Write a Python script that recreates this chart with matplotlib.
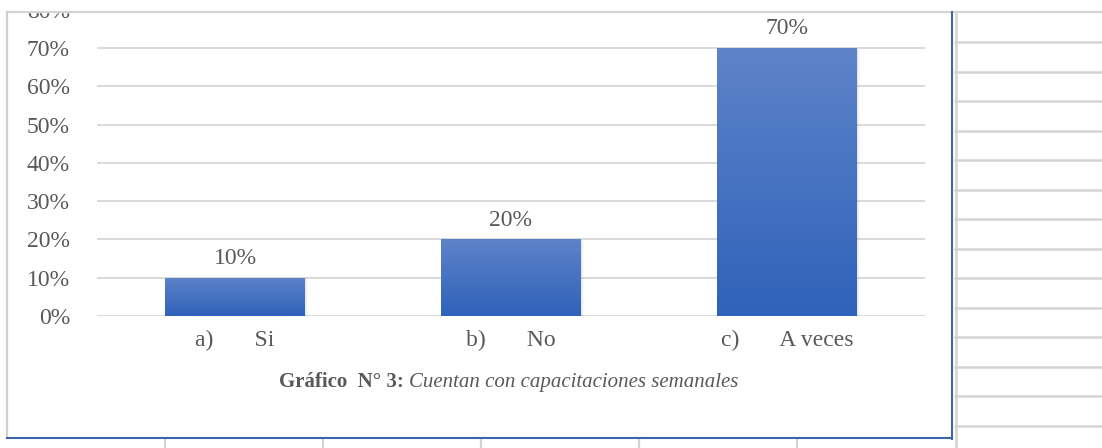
import numpy as np
import matplotlib
matplotlib.use("Agg")
import matplotlib.pyplot as plt
from matplotlib.lines import Line2D
from matplotlib.patches import Rectangle
from matplotlib.colors import LinearSegmentedColormap

categories = ["a)       Si", "b)       No", "c)       A veces"]
values = [0.10, 0.20, 0.70]
value_labels = ["10%", "20%", "70%"]
yticks = [0.0, 0.1, 0.2, 0.3, 0.4, 0.5, 0.6, 0.7, 0.8]
ytick_labels = ["0%", "10%", "20%", "30%", "40%", "50%", "60%", "70%", "80%"]

W, H = 1102, 448
TXT = "#595959"
GRID = "#d9d9d9"
SHEET = "#d4d4d4"
FRAME = "#3d65ad"
FS = 17

plt.rcParams["font.family"] = ["Liberation Serif", "DejaVu Serif"]

fig = plt.figure(figsize=(W / 100, H / 100), dpi=100)


def px(x, y):
    # pixel coords from the top-left corner -> figure fraction
    return x / W, 1 - y / H


ax = fig.add_axes([97 / W, 132 / H, 828 / W, (438.4 - 132) / H])
ax.set_xlim(-0.5, 2.5)
ax.set_ylim(0, 0.8)
ax.set_yticks(yticks)
ax.set_yticklabels(ytick_labels)
ax.yaxis.grid(True, color=GRID, linewidth=1.4)
ax.set_axisbelow(True)
for s in ax.spines.values():
    s.set_visible(False)
ax.tick_params(axis="y", length=0, pad=19.5, labelsize=FS, labelcolor=TXT)
ax.tick_params(axis="x", length=0, pad=10, labelsize=FS, labelcolor=TXT)
ax.set_xticks(range(len(categories)))
ax.set_xticklabels(categories)

x = np.arange(len(categories))
bars = ax.bar(x, values, width=0.505, color="none", zorder=3)

cmap = LinearSegmentedColormap.from_list("blue", ["#2f62ba", "#5e83c9"])
grad = np.linspace(0, 1, 256).reshape(-1, 1)
for b, lab in zip(bars, value_labels):
    x0, w, h = b.get_x(), b.get_width(), b.get_height()
    # soft drop shadow
    for k, a in enumerate([0.10, 0.06, 0.03]):
        ax.add_patch(Rectangle((x0 + 0.004 * (k + 1), -0.002), w, h,
                               color="#7f7f7f", alpha=a, lw=0, zorder=2))
    im = ax.imshow(grad, extent=[x0, x0 + w, 0, h], origin="lower",
                   aspect="auto", cmap=cmap, zorder=3)
    im.set_clip_path(b)
    ax.text(b.get_x() + w / 2, h + 0.05, lab, ha="center", va="center",
            fontsize=FS, color=TXT, zorder=4)

ax.set_xlim(-0.5, 2.5)
ax.set_ylim(0, 0.8)

# chart title: bold prefix, italic caption
fx, fy = px(404, 382)
fig.text(fx, fy, "Gráfico  N° 3:", ha="right", va="center", fontsize=15,
         fontweight="bold", color=TXT)
fx, fy = px(409, 382)
fig.text(fx, fy, "Cuentan con capacitaciones semanales", ha="left", va="center",
         fontsize=15, style="italic", color=TXT)

# sheet area above the chart hides the top of the axis
fig.patches.append(Rectangle((0, 1 - 12 / H), 1, 12 / H, transform=fig.transFigure,
                             color="white", zorder=10))


def fline(xs, ys, color, lw):
    fig.add_artist(Line2D([v / W for v in xs], [1 - v / H for v in ys],
                          color=color, linewidth=lw, zorder=11))


# spreadsheet grid around the chart
fline([7, W], [12.5, 12.5], SHEET, 1.6)
for yy in [42, 72, 101, 131, 160, 190, 219, 249, 278, 308, 337, 367, 396, 426]:
    fline([955, W], [yy, yy], SHEET, 1.8)
fline([955.5, 955.5], [12, H], SHEET, 1.8)
for xx in [165, 323, 481, 639, 797]:
    fline([xx, xx], [438, H], SHEET, 1.6)

# chart frame
fline([7, 7], [12, 438], "#d0d0d0", 1.6)
fline([7, 952], [438, 438], FRAME, 1.5)
fline([951.5, 951.5], [12, 438.5], FRAME, 1.5)

fig.savefig("out.png", dpi=100)
